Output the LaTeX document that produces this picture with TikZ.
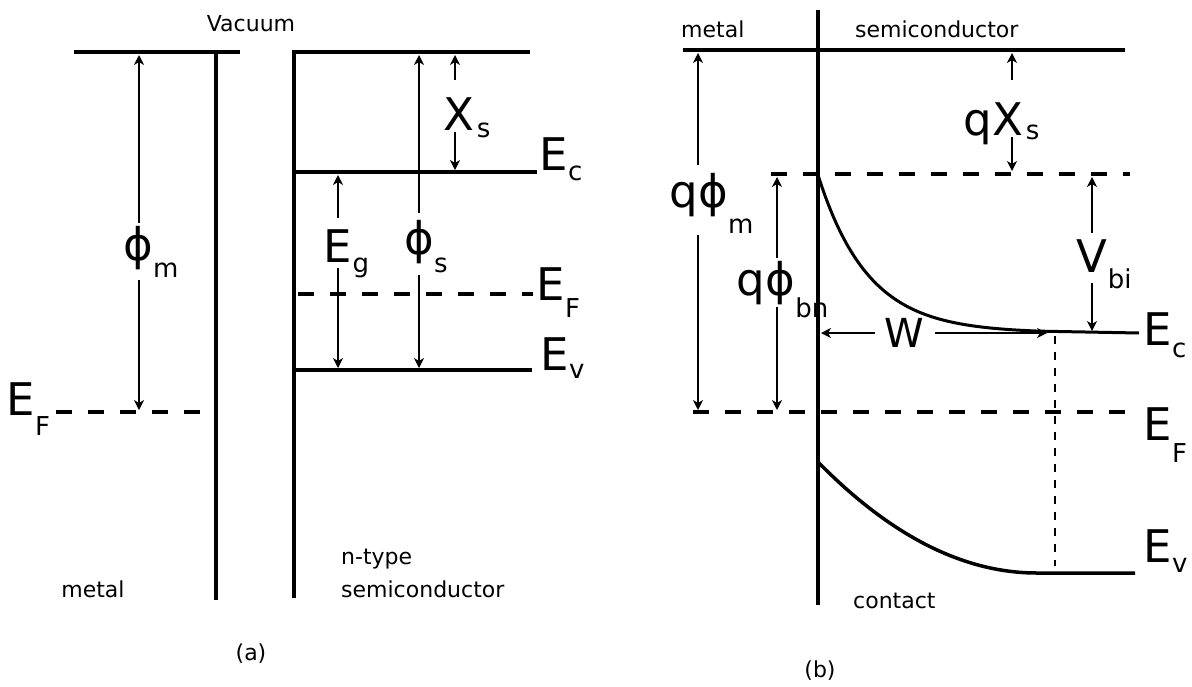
\documentclass[tikz,border=0pt]{standalone}
\usepackage{fontspec}
\setmainfont{DejaVu Sans}
\usetikzlibrary{arrows.meta}
\begin{document}
\begin{tikzpicture}[x=1pt,y=-1pt,
  lvl/.style={line width=3.5pt},
  wall/.style={line width=4pt},
  dsh/.style={line width=3.5pt, dash pattern=on 16pt off 16pt},
  thindsh/.style={line width=1.5pt, dash pattern=on 8pt off 8pt},
  arr/.style={line width=1.3pt, -{Stealth[length=10pt,width=10pt,inset=3pt]}},
  big/.style={inner sep=0pt, anchor=base, font=\fontsize{45}{50}\selectfont},
  bigw/.style={inner sep=0pt, anchor=base west, font=\fontsize{45}{50}\selectfont},
  subs/.style={inner sep=0pt, anchor=base west, font=\fontsize{26}{30}\selectfont},
  pre/.style={inner sep=0pt, anchor=base east, font=\fontsize{45}{50}\selectfont},
  small/.style={inner sep=0pt, font=\fontsize{22}{26}\selectfont}]
\useasboundingbox (0,0) rectangle (1192,686);

% ---------------- panel (a) ----------------
\coordinate (mT) at (139,52);
\coordinate (mF) at (139,412);
\draw[lvl] (74,52) -- (240,52);
\draw[wall] (216,52) -- (216,600);
\draw[dsh] (56,412) -- (216,412);
\draw[wall, line join=miter] (294,598) -- (294,52) -- (530,52);
\draw[lvl] (294,172) -- (537,172);
\draw[dsh] (298,294) -- (533,294);
\draw[lvl] (294,370) -- (532,370);

% labels (a)
\node[bigw] (EFm) at (6,415) {E};
\node[subs] at ([yshift=-20pt]EFm.base east) {F};
\node[big] (phim) at (138,260) {ϕ};
\node[subs] at ([yshift=-17pt]phim.base east) {m};
\node[big] (chis) at (459,130) {Χ};
\node[subs] at ([yshift=-7pt,xshift=2pt]chis.base east) {s};
\node[bigw] (Eca) at (539,170) {E};
\node[subs] at ([yshift=-10pt]Eca.base east) {c};
\node[big] (Eg) at (338,262) {E};
\node[subs] at ([yshift=-10pt]Eg.base east) {g};
\node[big] (phis) at (419,254) {ϕ};
\node[subs] at ([yshift=-18pt]phis.base east) {s};
\node[bigw] (EFs) at (536,300) {E};
\node[subs] at ([yshift=-17pt]EFs.base east) {F};
\node[bigw] (Eva) at (540,370) {E};
\node[subs] at ([yshift=-8pt]Eva.base east) {v};

% arrows (a)
\coordinate (phimA) at (139,223);
\coordinate (phimB) at (139,280);
\draw[arr] (phimA) -- ([yshift=-3pt]mT);
\draw[arr] (phimB) -- ([yshift=2pt]mF);
\coordinate (phisT) at (419,55);
\coordinate (phisA) at (419,213);
\coordinate (phisB) at (419,275);
\coordinate (phisV) at (419,368);
\draw[arr] (phisA) -- (phisT);
\draw[arr] (phisB) -- (phisV);
\coordinate (chiT) at (455,55);
\coordinate (chiA) at (455,80);
\coordinate (chiB) at (455,132);
\coordinate (chiC) at (455,170);
\draw[arr] (chiA) -- (chiT);
\draw[arr] (chiB) -- (chiC);
\coordinate (EgC) at (338,175);
\coordinate (EgA) at (338,218);
\coordinate (EgB) at (338,268);
\coordinate (EgV) at (338,368);
\draw[arr] (EgA) -- (EgC);
\draw[arr] (EgB) -- (EgV);

\node[small, anchor=base] (vac) at (251,31) {Vacuum};
\node[small, anchor=base] (metA) at (93,597) {metal};
\node[small, anchor=base west] (ntype) at (341,564) {n-type};
\node[small, anchor=base west] (semA) at (341,597) {semiconductor};
\node[small, anchor=base] (capa) at (251,660) {(a)};

% ---------------- panel (b) ----------------
\draw[wall] (818,10) -- (818,605);
\draw[lvl] (683,50) -- (1125,50);
\draw[dsh] (771,174) -- (1130,174);
\draw[line width=3pt] plot[domain=0:222, samples=80] ({818+\x},{175+158*(1-exp(-\x/50))}) -- (1139,333);
\draw[dsh] (693,412) -- (1128,412);
\draw[line width=3.5pt] (818,462) .. controls (890.7,536) and (963.7,573) .. (1037,573) -- (1135,573);
\draw[thindsh] (1055,336) -- (1055,566);

% labels (b)
\node[small, anchor=base west] (metB) at (681,37) {metal};
\node[small, anchor=base west] (semB) at (855,37) {semiconductor};
\node[small, anchor=base west] (cont) at (853,608) {contact};
\node[small, anchor=base] (capb) at (820,677) {(b)};

\node[big] (qchi) at (1008,135) {Χ};
\node[pre] at (qchi.base west) {q};
\node[subs] at ([yshift=-4pt,xshift=2pt]qchi.base east) {s};
\node[big] (qphim) at (713,207) {ϕ};
\node[pre] at (qphim.base west) {q};
\node[subs] at ([yshift=-26pt]qphim.base east) {m};
\node[big] (qphib) at (780,295) {ϕ};
\node[pre] at (qphib.base west) {q};
\node[subs] at ([yshift=-22pt]qphib.base east) {bn};
\node[big] (Vbi) at (1092,272) {V};
\node[subs] at ([yshift=-16pt]Vbi.base east) {bi};
\node[inner sep=0pt, anchor=base, font=\fontsize{40}{44}\selectfont] (W) at (904,347) {W};
\node[bigw] (Ecb) at (1143,345) {E};
\node[subs] at ([yshift=-12pt]Ecb.base east) {c};
\node[bigw] (EFb) at (1143,440) {E};
\node[subs] at ([yshift=-22pt]EFb.base east) {F};
\node[bigw] (Evb) at (1143,562) {E};
\node[subs] at ([yshift=-10pt]Evb.base east) {v};

% arrows (b)
\coordinate (qxT) at (1012,53);
\coordinate (qxA) at (1012,80);
\coordinate (qxB) at (1012,137);
\coordinate (qxC) at (1012,171);
\draw[arr] (qxA) -- (qxT);
\draw[arr] (qxB) -- (qxC);
\coordinate (qmT) at (698,53);
\coordinate (qmA) at (698,165);
\coordinate (qmB) at (698,235);
\coordinate (qmF) at (698,410);
\draw[arr] (qmA) -- (qmT);
\draw[arr] (qmB) -- (qmF);
\coordinate (qbT) at (777,177);
\coordinate (qbA) at (777,258);
\coordinate (qbB) at (777,307);
\coordinate (qbF) at (777,410);
\draw[arr] (qbA) -- (qbT);
\draw[arr] (qbB) -- (qbF);
\coordinate (vT) at (1092,177);
\coordinate (vA) at (1092,233);
\coordinate (vB) at (1092,283);
\coordinate (vC) at (1092,331);
\draw[arr] (vA) -- (vT);
\draw[arr] (vB) -- (vC);
\coordinate (wL) at (821,333);
\coordinate (wA) at (875,333);
\coordinate (wB) at (935,333);
\coordinate (wR) at (1047,333);
\draw[arr] (wA) -- (wL);
\draw[arr] (wB) -- (wR);
\end{tikzpicture}
\end{document}
